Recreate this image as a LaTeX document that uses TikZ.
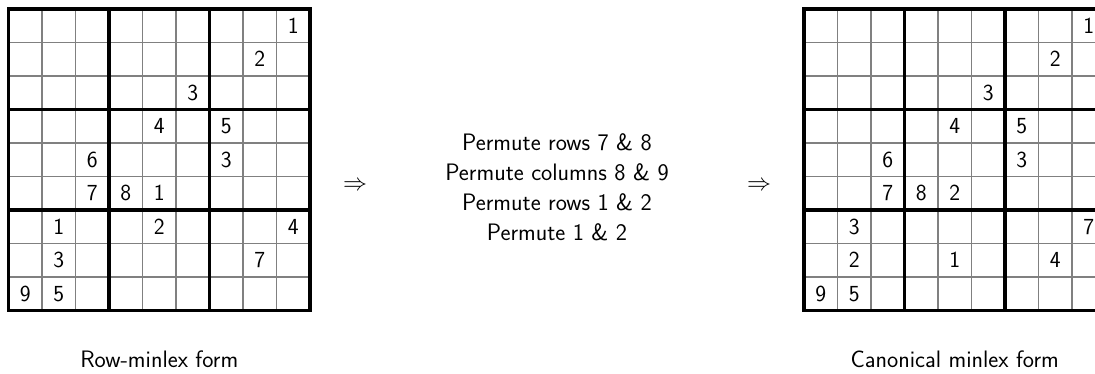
\documentclass[tikz,border=0pt]{standalone}
\usepackage{fontspec}
\begin{document}
\tikzset{
  cellnum/.style={font=\sffamily\fontsize{23}{28}\selectfont, inner sep=0pt},
  thinrule/.style={line width=1.1pt, draw=black!50},
  thickrule/.style={line width=3.4pt, draw=black},
  caption/.style={font=\sffamily\fontsize{23.8}{30}\selectfont, inner sep=0pt, anchor=base},
  steptext/.style={font=\sffamily\fontsize{23.8}{30}\selectfont, inner sep=0pt, align=center},
  implies/.style={inner sep=0pt, scale=2.4},
}
\begin{tikzpicture}[x=1pt,y=-1pt]
\useasboundingbox (0,0) rectangle (1095,373);
\clip (0,0) rectangle (1095,373);
\def\cs{33.5}
% the two 9x9 grids: thin cell rules, then thick box rules
\foreach \ox in {8.5,804} {
  \begin{scope}[shift={(\ox,9)}]
    \foreach \i in {1,2,4,5,7,8} {
      \draw[thinrule] (\i*\cs,0) -- (\i*\cs,9*\cs);
      \draw[thinrule] (0,\i*\cs) -- (9*\cs,\i*\cs);
    }
    \foreach \i in {3,6} {
      \draw[thickrule] (\i*\cs,0) -- (\i*\cs,9*\cs);
      \draw[thickrule] (0,\i*\cs) -- (9*\cs,\i*\cs);
    }
    \draw[thickrule] (0,0) rectangle (9*\cs,9*\cs);
  \end{scope}
}
% givens of the row-minlex grid (row/column/value)
\begin{scope}[shift={(8.5,9)}]
  \foreach \r/\c/\v in {1/9/1, 2/8/2, 3/6/3, 4/5/4, 4/7/5, 5/3/6, 5/7/3,
                        6/3/7, 6/4/8, 6/5/1, 7/2/1, 7/5/2, 7/9/4, 8/2/3, 8/8/7,
                        9/1/9, 9/2/5}
    \node[cellnum] (L-\r-\c) at ({(\c-0.5)*\cs},{(\r-0.5)*\cs}) {\v};
\end{scope}
% givens of the canonical minlex grid
\begin{scope}[shift={(804,9)}]
  \foreach \r/\c/\v in {1/9/1, 2/8/2, 3/6/3, 4/5/4, 4/7/5, 5/3/6, 5/7/3,
                        6/3/7, 6/4/8, 6/5/2, 7/2/3, 7/9/7, 8/2/2, 8/5/1, 8/8/4,
                        9/1/9, 9/2/5}
    \node[cellnum] (R-\r-\c) at ({(\c-0.5)*\cs},{(\r-0.5)*\cs}) {\v};
\end{scope}
% captions
\node[caption] (cap-row) at (159.25,367) {Row-minlex form};
\node[caption] (cap-canon) at (954.75,367) {Canonical minlex form};
% transformation steps between the grids
\node[implies] (arrow-in) at (355,186) {$\Rightarrow$};
\node[steptext] (steps) at (557,187) {Permute rows 7 \& 8\\Permute columns 8 \& 9\\Permute rows 1 \& 2\\Permute 1 \& 2};
\node[implies] (arrow-out) at (759,186) {$\Rightarrow$};
\end{tikzpicture}
\end{document}
